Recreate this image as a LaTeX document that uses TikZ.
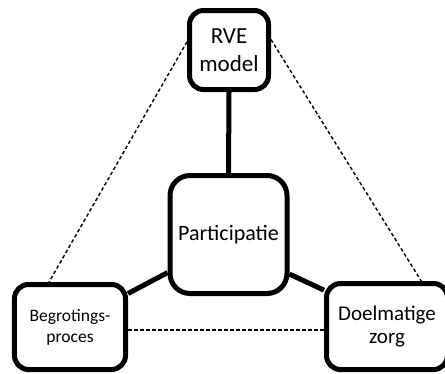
\documentclass[tikz,border=0pt]{standalone}
\usepackage{fontspec}
\setmainfont{Carlito}
\begin{document}
\begin{tikzpicture}[x=1bp,y=-1bp,
  box/.style={draw=black,line width=5bp,rounded corners=14bp,fill=white,align=center,inner sep=0pt},
  solidline/.style={line width=5bp},
  dashline/.style={line width=1.4bp,dash pattern=on 3.5bp off 2.5bp}]
\useasboundingbox (0,0) rectangle (445,373);
\begin{scope}
\clip (0,0) rectangle (445,373);
\node[box,minimum width=79bp,minimum height=79bp,font=\fontsize{23bp}{28bp}\selectfont] (rve) at (229,50) {RVE\\model};
\node[box,rounded corners=20bp,minimum width=117bp,minimum height=118bp,font=\fontsize{22bp}{26bp}\selectfont] (part) at (228.5,234.5) {Participatie};
\node[box,minimum width=111bp,minimum height=85bp,font=\fontsize{17.5bp}{21bp}\selectfont] (beg) at (70,327) {Begrotings-\\proces};
\node[box,minimum width=121bp,minimum height=86bp,font=\fontsize{21bp}{23.5bp}\selectfont] (doel) at (387,326.5) {Doelmatige\\zorg};
\draw[solidline] (rve.south) -- (part.north);
\draw[solidline] (part.212) -- (beg.30);
\draw[solidline] (part.-33) -- (doel.150);
\draw[dashline] (rve.169) -- (beg.115);
\draw[dashline] (rve.14) -- (doel.53);
\draw[dashline] ([yshift=-3bp]beg.east) -- ([yshift=-3.5bp]doel.west);
\end{scope}
\end{tikzpicture}
\end{document}
